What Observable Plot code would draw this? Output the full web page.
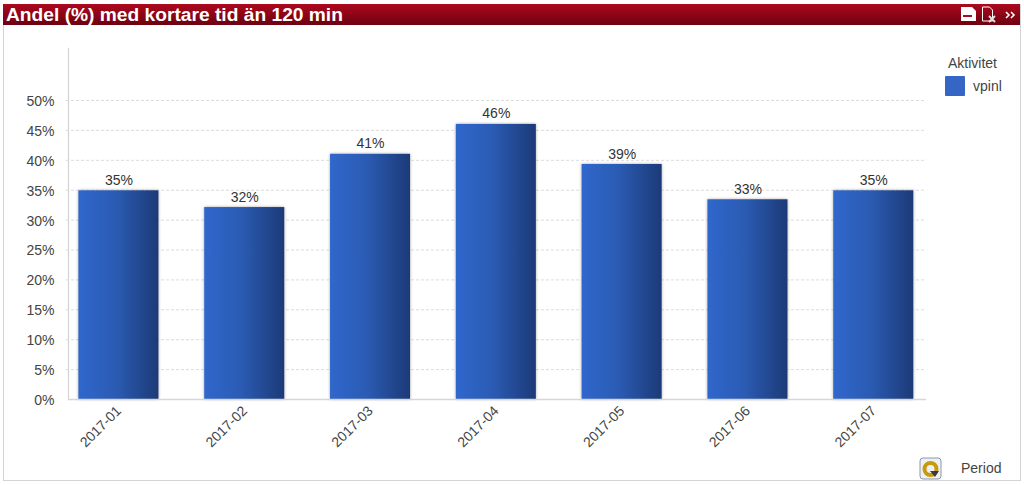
<!DOCTYPE html>
<html><head><meta charset="utf-8">
<script src="https://cdn.jsdelivr.net/npm/d3@7"></script>
<script src="https://cdn.jsdelivr.net/npm/@observablehq/plot@0.6"></script>
<style>
html,body{margin:0;padding:0;background:#fff;width:1024px;height:485px;overflow:hidden;font-family:"Liberation Sans",Arial,sans-serif}
#wrap{position:relative;width:1024px;height:485px}
#frame{position:absolute;left:3px;top:4px;width:1016px;height:476px;border:1px solid #d4d4d4;border-top:0}
#bar{position:absolute;left:3px;top:4px;width:1017px;height:21px;background:linear-gradient(#ad0a1e,#6d0010)}
#title{position:absolute;left:6px;top:4px;height:21px;line-height:21px;font-size:19.2px;font-weight:bold;color:#fff;white-space:nowrap}
.t{position:absolute;font-size:14px;color:#444;white-space:nowrap;line-height:14px}
#chart{position:absolute;left:0;top:0}
#chart svg{display:block;background:transparent}
.plotc [aria-label="bar"] rect{filter:drop-shadow(0 0 1.5px rgba(90,90,90,.55))}
#sw{position:absolute;left:945px;top:76px;width:20px;height:20px;background:#3566c6;border-radius:1px}
.ic{position:absolute}
</style></head><body>
<div id="wrap">
<div id="frame"></div><div id="bar"></div>
<div id="title"></div>
<svg class="ic" style="left:960px;top:4px" width="58" height="20" viewBox="0 0 58 20">
<path d="M1 3h11l4 4v10H1z" fill="#fff"/><rect x="3" y="11" width="9" height="2" fill="#a01020"/>
<path d="M22.500 3h7l3 3v11h-10z" fill="none" stroke="#fff"/><path d="M29 12l6 6M35 12l-6 6" stroke="#e4e4e4" stroke-width="1.800"/>
<path d="M46 8l3 3-3 3M51 8l3 3-3 3" fill="none" stroke="#fff" stroke-width="1.600"/>
</svg>
<div id="chart"></div>
<div class="t" id="legT" style="left:948px;top:56px"></div>
<div id="sw"></div>
<div class="t" id="legV" style="left:973px;top:79px"></div>
<svg class="ic" style="left:919px;top:457px" width="24" height="24" viewBox="0 0 24 24">
<rect x="1" y="1" width="21" height="21" rx="3" fill="#eef1f4" stroke="#8a98a8"/>
<circle cx="11.500" cy="12" r="6" fill="none" stroke="#c89a10" stroke-width="4"/>
<path d="M11 14l9 0-4 6z" fill="#3a3a3a"/>
</svg>
<div class="t" id="axT" style="left:961px;top:461px"></div>
</div>
<script>
const titleText = "Andel (%) med kortare tid än 120 min";
const legendTitle = "Aktivitet";
const legendItem = "vpinl";
const axisTitle = "Period";
const periods = ["2017-01","2017-02","2017-03","2017-04","2017-05","2017-06","2017-07"];
const values = [34.9,32.1,41,46,39.3,33.4,34.9];
const yTicks = [0,5,10,15,20,25,30,35,40,45,50];

document.getElementById("title").textContent = titleText;
document.getElementById("legT").textContent = legendTitle;
document.getElementById("legV").textContent = legendItem;
document.getElementById("axT").textContent = axisTitle;

const rows = periods.map((p,i)=>({p,v:values[i]}));
const gradient = () => {
  const svgNS = "http://www.w3.org/2000/svg";
  const defs = document.createElementNS(svgNS,"defs");
  const g = document.createElementNS(svgNS,"linearGradient");
  g.setAttribute("id","barFill");
  [["0%","#3067cc"],["45%","#2b5cb4"],["100%","#1c3a78"]].forEach(([o,c])=>{
    const s = document.createElementNS(svgNS,"stop");
    s.setAttribute("offset",o); s.setAttribute("stop-color",c); g.appendChild(s);
  });
  defs.appendChild(g);
  return defs;
};
const plot = Plot.plot({
  className:"plotc",
  width:1024, height:485,
  marginLeft:68, marginRight:98, marginTop:48, marginBottom:86,
  style:{fontFamily:'"Liberation Sans",Arial,sans-serif',fontSize:"14px",color:"#444",background:"transparent"},
  x:{domain:periods,paddingInner:0.364,paddingOuter:0.092,align:0.45,round:false,label:null},
  y:{domain:[0,58.7],label:null},
  marks:[
    gradient,
    Plot.ruleY(yTicks.filter(d=>d>0),{y:d=>d,stroke:"#dcdcdc",strokeDasharray:"3,2",insetLeft:-2}),
    Plot.frame({anchor:"left",stroke:"#d6d6d6",strokeWidth:1.300}),
    Plot.barY(rows,{x:"p",y:"v",fill:"url(#barFill)"}),
    Plot.ruleY([0],{stroke:"#d6d6d6",strokeWidth:1.300}),
    Plot.text(rows,{x:"p",y:"v",text:d=>d3.format(".0f")(d.v)+"%",dy:-6,lineAnchor:"bottom",fill:"#333",fontSize:14}),
    Plot.axisY({ticks:yTicks,tickSize:0,tickPadding:14,tickFormat:d=>d+"%",label:null,fill:"#444",fontSize:14,dy:1}),
    Plot.axisX({tickSize:0,tickPadding:5,tickRotate:-45,label:null,fill:"#444",fontSize:14,dx:0,dy:4})
  ]
});
document.getElementById("chart").appendChild(plot);
</script>
</body></html>
